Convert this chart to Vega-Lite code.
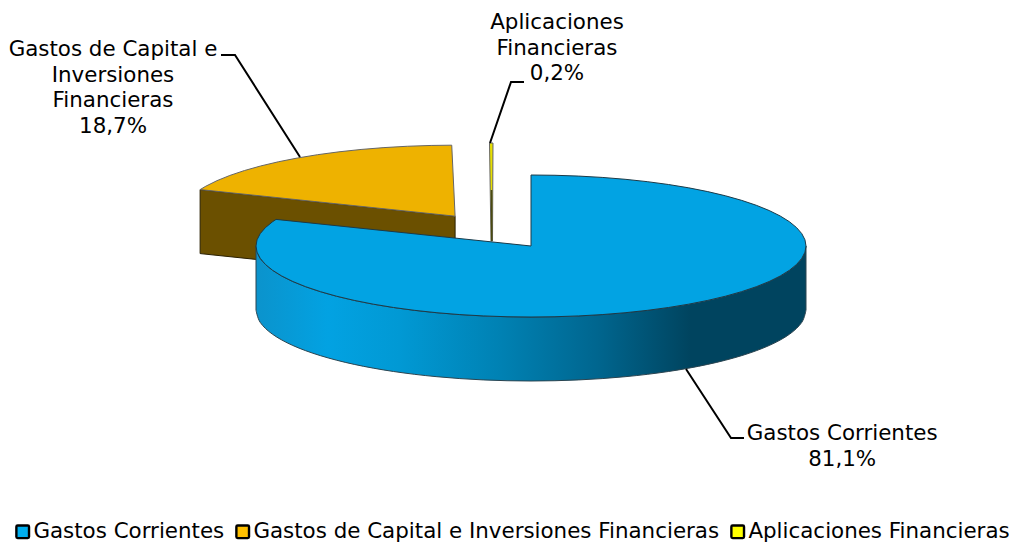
{"$schema":"https://vega.github.io/schema/vega-lite/v6.json","width":1009,"height":542,"padding":0,"autosize":{"type":"fit","contains":"padding"},"background":"white","config":{"view":{"stroke":null},"font":"DejaVu Sans"},
"datasets":{
"topBlue":[{"slice":"Gastos Corrientes","seq":0,"u":0,"v":1},{"slice":"Gastos Corrientes","seq":1,"u":0.0872,"v":0.9962},{"slice":"Gastos Corrientes","seq":2,"u":0.1736,"v":0.9848},{"slice":"Gastos Corrientes","seq":3,"u":0.2588,"v":0.9659},{"slice":"Gastos Corrientes","seq":4,"u":0.342,"v":0.9397},{"slice":"Gastos Corrientes","seq":5,"u":0.4226,"v":0.9063},{"slice":"Gastos Corrientes","seq":6,"u":0.5,"v":0.866},{"slice":"Gastos Corrientes","seq":7,"u":0.5736,"v":0.8192},{"slice":"Gastos Corrientes","seq":8,"u":0.6428,"v":0.766},{"slice":"Gastos Corrientes","seq":9,"u":0.7071,"v":0.7071},{"slice":"Gastos Corrientes","seq":10,"u":0.766,"v":0.6428},{"slice":"Gastos Corrientes","seq":11,"u":0.8192,"v":0.5736},{"slice":"Gastos Corrientes","seq":12,"u":0.866,"v":0.5},{"slice":"Gastos Corrientes","seq":13,"u":0.9063,"v":0.4226},{"slice":"Gastos Corrientes","seq":14,"u":0.9397,"v":0.342},{"slice":"Gastos Corrientes","seq":15,"u":0.9659,"v":0.2588},{"slice":"Gastos Corrientes","seq":16,"u":0.9848,"v":0.1736},{"slice":"Gastos Corrientes","seq":17,"u":0.9962,"v":0.0872},{"slice":"Gastos Corrientes","seq":18,"u":1,"v":0},{"slice":"Gastos Corrientes","seq":19,"u":0.9962,"v":-0.0872},{"slice":"Gastos Corrientes","seq":20,"u":0.9848,"v":-0.1736},{"slice":"Gastos Corrientes","seq":21,"u":0.9659,"v":-0.2588},{"slice":"Gastos Corrientes","seq":22,"u":0.9397,"v":-0.342},{"slice":"Gastos Corrientes","seq":23,"u":0.9063,"v":-0.4226},{"slice":"Gastos Corrientes","seq":24,"u":0.866,"v":-0.5},{"slice":"Gastos Corrientes","seq":25,"u":0.8192,"v":-0.5736},{"slice":"Gastos Corrientes","seq":26,"u":0.766,"v":-0.6428},{"slice":"Gastos Corrientes","seq":27,"u":0.7071,"v":-0.7071},{"slice":"Gastos Corrientes","seq":28,"u":0.6428,"v":-0.766},{"slice":"Gastos Corrientes","seq":29,"u":0.5736,"v":-0.8192},{"slice":"Gastos Corrientes","seq":30,"u":0.5,"v":-0.866},{"slice":"Gastos Corrientes","seq":31,"u":0.4226,"v":-0.9063},{"slice":"Gastos Corrientes","seq":32,"u":0.342,"v":-0.9397},{"slice":"Gastos Corrientes","seq":33,"u":0.2588,"v":-0.9659},{"slice":"Gastos Corrientes","seq":34,"u":0.1736,"v":-0.9848},{"slice":"Gastos Corrientes","seq":35,"u":0.0872,"v":-0.9962},{"slice":"Gastos Corrientes","seq":36,"u":0,"v":-1},{"slice":"Gastos Corrientes","seq":37,"u":-0.0872,"v":-0.9962},{"slice":"Gastos Corrientes","seq":38,"u":-0.1736,"v":-0.9848},{"slice":"Gastos Corrientes","seq":39,"u":-0.2588,"v":-0.9659},{"slice":"Gastos Corrientes","seq":40,"u":-0.342,"v":-0.9397},{"slice":"Gastos Corrientes","seq":41,"u":-0.4226,"v":-0.9063},{"slice":"Gastos Corrientes","seq":42,"u":-0.5,"v":-0.866},{"slice":"Gastos Corrientes","seq":43,"u":-0.5736,"v":-0.8192},{"slice":"Gastos Corrientes","seq":44,"u":-0.6428,"v":-0.766},{"slice":"Gastos Corrientes","seq":45,"u":-0.7071,"v":-0.7071},{"slice":"Gastos Corrientes","seq":46,"u":-0.766,"v":-0.6428},{"slice":"Gastos Corrientes","seq":47,"u":-0.8192,"v":-0.5736},{"slice":"Gastos Corrientes","seq":48,"u":-0.866,"v":-0.5},{"slice":"Gastos Corrientes","seq":49,"u":-0.9063,"v":-0.4226},{"slice":"Gastos Corrientes","seq":50,"u":-0.9397,"v":-0.342},{"slice":"Gastos Corrientes","seq":51,"u":-0.9659,"v":-0.2588},{"slice":"Gastos Corrientes","seq":52,"u":-0.9848,"v":-0.1736},{"slice":"Gastos Corrientes","seq":53,"u":-0.9962,"v":-0.0872},{"slice":"Gastos Corrientes","seq":54,"u":-1,"v":0},{"slice":"Gastos Corrientes","seq":55,"u":-0.9962,"v":0.0872},{"slice":"Gastos Corrientes","seq":56,"u":-0.9848,"v":0.1736},{"slice":"Gastos Corrientes","seq":57,"u":-0.9659,"v":0.2588},{"slice":"Gastos Corrientes","seq":58,"u":-0.9397,"v":0.342},{"slice":"Gastos Corrientes","seq":59,"u":-0.9272,"v":0.3746},{"slice":"Gastos Corrientes","seq":60,"u":0,"v":0}],
"topCapital":[{"slice":"Gastos de Capital e Inversiones Financieras","seq":0,"u":-1.2032,"v":0.7946},{"slice":"Gastos de Capital e Inversiones Financieras","seq":1,"u":-1.1823,"v":0.8426},{"slice":"Gastos de Capital e Inversiones Financieras","seq":2,"u":-1.142,"v":0.92},{"slice":"Gastos de Capital e Inversiones Financieras","seq":3,"u":-1.0952,"v":0.9936},{"slice":"Gastos de Capital e Inversiones Financieras","seq":4,"u":-1.042,"v":1.0628},{"slice":"Gastos de Capital e Inversiones Financieras","seq":5,"u":-0.9831,"v":1.1271},{"slice":"Gastos de Capital e Inversiones Financieras","seq":6,"u":-0.9188,"v":1.186},{"slice":"Gastos de Capital e Inversiones Financieras","seq":7,"u":-0.8496,"v":1.2392},{"slice":"Gastos de Capital e Inversiones Financieras","seq":8,"u":-0.776,"v":1.286},{"slice":"Gastos de Capital e Inversiones Financieras","seq":9,"u":-0.6986,"v":1.3263},{"slice":"Gastos de Capital e Inversiones Financieras","seq":10,"u":-0.618,"v":1.3597},{"slice":"Gastos de Capital e Inversiones Financieras","seq":11,"u":-0.5348,"v":1.3859},{"slice":"Gastos de Capital e Inversiones Financieras","seq":12,"u":-0.4496,"v":1.4048},{"slice":"Gastos de Capital e Inversiones Financieras","seq":13,"u":-0.3632,"v":1.4162},{"slice":"Gastos de Capital e Inversiones Financieras","seq":14,"u":-0.2882,"v":1.4199},{"slice":"Gastos de Capital e Inversiones Financieras","seq":15,"u":-0.276,"v":0.42}],
"topAplic":[{"slice":"Aplicaciones Financieras","seq":0,"u":-0.1509,"v":1.4507},{"slice":"Aplicaciones Financieras","seq":1,"u":-0.1382,"v":1.4507},{"slice":"Aplicaciones Financieras","seq":2,"u":-0.14,"v":0.0704},{"slice":"Aplicaciones Financieras","seq":3,"u":-0.1455,"v":0.0704}],
"sideBack":[{"slice":"Gastos de Capital e Inversiones Financieras","seq":0,"u":-1.2032,"v":0.7946},{"slice":"Gastos de Capital e Inversiones Financieras","seq":1,"u":-0.276,"v":0.42},{"slice":"Gastos de Capital e Inversiones Financieras","seq":2,"u":-0.276,"v":-0.4814},{"slice":"Gastos de Capital e Inversiones Financieras","seq":3,"u":-1.2032,"v":-0.1068}],
"sliverSide":[{"seq":0,"u":-0.1436,"v":0.789},{"seq":1,"u":-0.1428,"v":0.0704}],
"sideBlue":[{"u":-1,"v":0,"v2":-0.9014},{"u":-0.9848,"v":-0.1736,"v2":-1.075},{"u":-0.9397,"v":-0.342,"v2":-1.2434},{"u":-0.866,"v":-0.5,"v2":-1.4014},{"u":-0.766,"v":-0.6428,"v2":-1.5442},{"u":-0.6428,"v":-0.766,"v2":-1.6674},{"u":-0.5,"v":-0.866,"v2":-1.7674},{"u":-0.342,"v":-0.9397,"v2":-1.8411},{"u":-0.1736,"v":-0.9848,"v2":-1.8862},{"u":0,"v":-1,"v2":-1.9014},{"u":0.1736,"v":-0.9848,"v2":-1.8862},{"u":0.342,"v":-0.9397,"v2":-1.8411},{"u":0.5,"v":-0.866,"v2":-1.7674},{"u":0.6428,"v":-0.766,"v2":-1.6674},{"u":0.766,"v":-0.6428,"v2":-1.5442},{"u":0.866,"v":-0.5,"v2":-1.4014},{"u":0.9397,"v":-0.342,"v2":-1.2434},{"u":0.9848,"v":-0.1736,"v2":-1.075},{"u":1,"v":0,"v2":-0.9014}],
"leaders":[{"slice":"Gastos Corrientes","seq":0,"u":0.5636,"v":-1.7324},{"slice":"Gastos Corrientes","seq":1,"u":0.7273,"v":-2.7042},{"slice":"Gastos Corrientes","seq":2,"u":0.7745,"v":-2.7042},{"slice":"Gastos de Capital e Inversiones Financieras","seq":0,"u":-0.84,"v":1.2535},{"slice":"Gastos de Capital e Inversiones Financieras","seq":1,"u":-1.0764,"v":2.6901},{"slice":"Gastos de Capital e Inversiones Financieras","seq":2,"u":-1.1273,"v":2.6901},{"slice":"Aplicaciones Financieras","seq":0,"u":-0.1491,"v":1.4507},{"slice":"Aplicaciones Financieras","seq":1,"u":-0.0727,"v":2.3099},{"slice":"Aplicaciones Financieras","seq":2,"u":-0.0255,"v":2.3099}],
"labels":[{"slice":"Gastos Corrientes","share":81.1,"label":"Gastos Corrientes\n81,1%","u":1.1316,"v":-2.6479},{"slice":"Gastos de Capital e Inversiones Financieras","share":18.7,"label":"Gastos de Capital e\nInversiones\nFinancieras\n18,7%","u":-1.52,"v":2.7605},{"slice":"Aplicaciones Financieras","share":0.2,"label":"Aplicaciones\nFinancieras\n0,2%","u":0.0945,"v":3.1408}]
},
"encoding":{"x":{"field":"u","type":"quantitative","axis":null,"scale":{"domain":[-1.93091,1.73818],"nice":false,"zero":false}},"y":{"field":"v","type":"quantitative","axis":null,"scale":{"domain":[-4.16901,3.46479],"nice":false,"zero":false}}},
"layer":[
{"data":{"name":"sideBack"},"mark":{"type":"line","interpolate":"linear-closed","fill":"#6b5000","stroke":"#2a2000","strokeWidth":1},"encoding":{"order":{"field":"seq","type":"quantitative"}}},
{"data":{"name":"topCapital"},"mark":{"type":"line","interpolate":"linear-closed","fill":"#eeb200","stroke":"#666666","strokeWidth":1},"encoding":{"order":{"field":"seq","type":"quantitative"}}},
{"data":{"name":"topAplic"},"mark":{"type":"line","interpolate":"linear-closed","fill":"#e8e000","stroke":"#666666","strokeWidth":1},"encoding":{"order":{"field":"seq","type":"quantitative"}}},
{"data":{"name":"sliverSide"},"mark":{"type":"line","color":"#4a4a10","strokeWidth":1.5},"encoding":{"order":{"field":"seq","type":"quantitative"}}},
{"data":{"name":"sideBlue"},"mark":{"type":"area","interpolate":"cardinal","stroke":"#2b4450","strokeWidth":1,"color":{"gradient":"linear","x1":0,"x2":1,"y1":0,"y2":0,"stops":[{"offset":0,"color":"#0b93cc"},{"offset":0.13,"color":"#02a2e2"},{"offset":0.26,"color":"#0199d4"},{"offset":0.44,"color":"#0082b4"},{"offset":0.62,"color":"#00668f"},{"offset":0.79,"color":"#00445f"},{"offset":1,"color":"#00445f"}]}},"encoding":{"y2":{"field":"v2"}}},
{"data":{"name":"topBlue"},"mark":{"type":"line","interpolate":"linear-closed","fill":"#02a3e3","stroke":"#1c3a48","strokeWidth":1},"encoding":{"order":{"field":"seq","type":"quantitative"}}},
{"data":{"name":"leaders"},"mark":{"type":"line","color":"#000000","strokeWidth":2},"encoding":{"detail":{"field":"slice"},"order":{"field":"seq","type":"quantitative"}}},
{"data":{"name":"labels"},"mark":{"type":"text","lineBreak":"\n","lineHeight":25.7,"align":"center","baseline":"middle","font":"DejaVu Sans","fontSize":21.4,"color":"#000000"},"encoding":{"text":{"field":"label"}}},
{"data":{"name":"labels"},"mark":{"type":"point","filled":true,"size":0},"encoding":{"fill":{"field":"slice","type":"nominal","scale":{"domain":["Gastos Corrientes","Gastos de Capital e Inversiones Financieras","Aplicaciones Financieras"],"range":["#00aeef","#ffc000","#ffff00"]},"legend":{"orient":"none","legendX":12,"legendY":521,"direction":"horizontal","title":null,"symbolType":"M-0.8,-1 H0.8 Q1,-1 1,-0.8 V0.8 Q1,1 0.8,1 H-0.8 Q-1,1 -1,0.8 V-0.8 Q-1,-1 -0.8,-1 Z","symbolSize":160,"symbolOpacity":1,"symbolStrokeColor":"#000000","symbolStrokeWidth":2.4,"labelFont":"DejaVu Sans","labelFontSize":21.4,"labelColor":"#000000","labelLimit":600,"labelOffset":0,"columnPadding":6}}}}
]}
